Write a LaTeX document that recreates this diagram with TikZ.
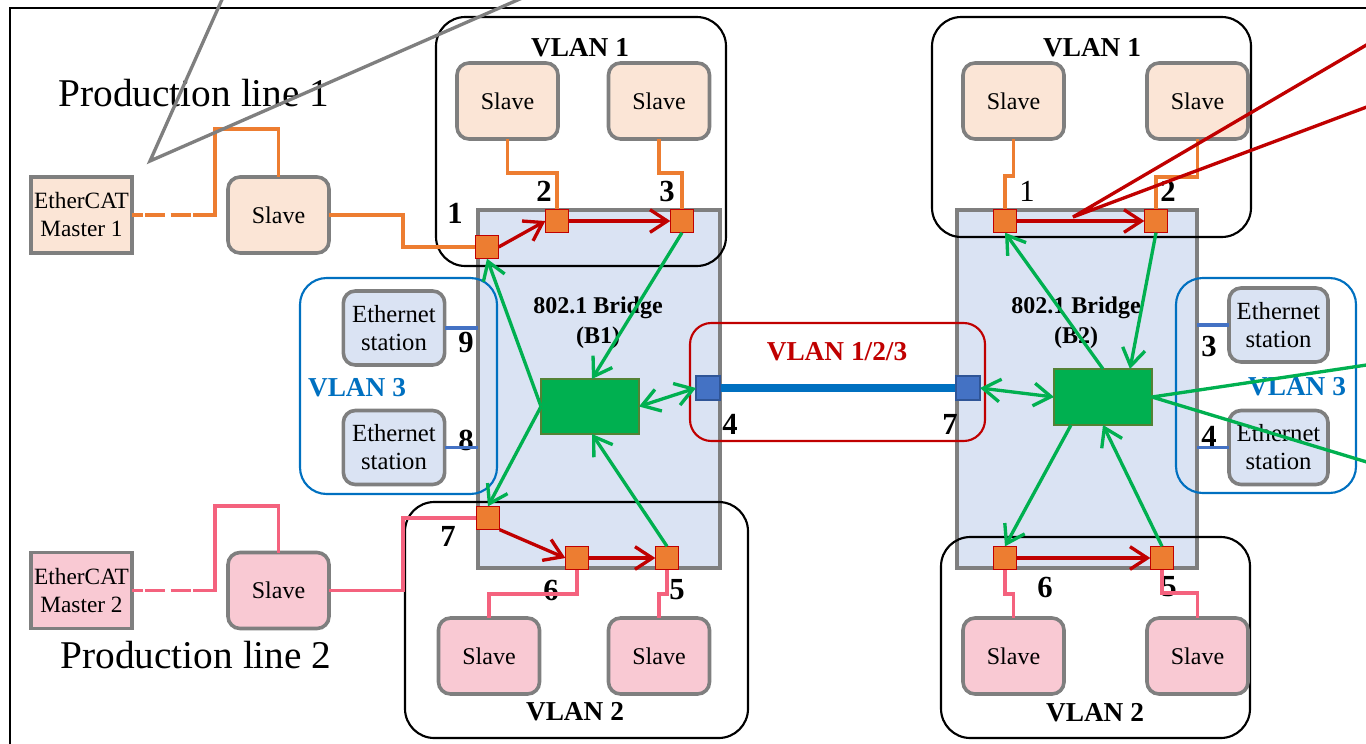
\documentclass[tikz,border=0pt]{standalone}
\usepackage{fontspec}
\setmainfont{Liberation Serif}
\usetikzlibrary{arrows.meta,calc,fit}
\definecolor{gb}{HTML}{7F7F7F}
\definecolor{ofill}{HTML}{FBE5D6}
\definecolor{oline}{HTML}{ED7D31}
\definecolor{pfill}{HTML}{F9C9D3}
\definecolor{pline}{HTML}{F4627E}
\definecolor{bfill}{HTML}{DAE3F3}
\definecolor{gfill}{HTML}{00B050}
\definecolor{gedge}{HTML}{548235}
\definecolor{bport}{HTML}{4472C4}
\definecolor{bportedge}{HTML}{2F5597}
\definecolor{vblue}{HTML}{0070C0}
\definecolor{dred}{HTML}{C00000}
\begin{document}
\begin{tikzpicture}[x=0.75pt,y=-0.75pt,
  every node/.style={inner sep=0pt,outer sep=0pt},
  box/.style={draw=gb,line width=2.7pt,align=center},
  slaveO/.style={box,rounded corners=9pt,fill=ofill,minimum width=75.75pt,minimum height=57pt,font=\fontsize{18}{21}\selectfont},
  slaveP/.style={box,rounded corners=9pt,fill=pfill,minimum width=75.75pt,minimum height=57pt,font=\fontsize{18}{21}\selectfont},
  masterO/.style={box,fill=ofill,minimum width=75.75pt,minimum height=57pt,font=\fontsize{17.5}{21}\selectfont},
  masterP/.style={box,fill=pfill,minimum width=75.75pt,minimum height=57pt,font=\fontsize{17.5}{21}\selectfont},
  station/.style={box,rounded corners=9pt,fill=bfill,minimum width=76pt,minimum height=55.5pt,font=\fontsize{18.5}{21}\selectfont},
  bridge/.style={draw=gb,fill=bfill,line width=2.7pt},
  vbox/.style={draw=black,line width=1.6pt,rounded corners=22pt},
  v3box/.style={draw=vblue,line width=1.6pt,rounded corners=20pt},
  vrbox/.style={draw=dred,line width=1.6pt,rounded corners=16pt},
  port/.style={draw=dred,fill=oline,line width=1.2pt,minimum size=17.5pt},
  bportn/.style={draw=bportedge,fill=bport,line width=1.2pt,minimum size=18pt},
  gbox/.style={draw=gedge,fill=gfill,line width=1.2pt},
  lab/.style={font=\fontsize{20.5}{24}\selectfont\bfseries},
  num/.style={font=\fontsize{23}{26}\selectfont\bfseries},
  bl/.style={font=\fontsize{18}{22.5}\selectfont\bfseries,align=center},
  prod/.style={font=\fontsize{29.5}{32}\selectfont,anchor=base},
  ol/.style={oline,line width=2.5pt},
  pl/.style={pline,line width=2.5pt},
  stl/.style={bport,line width=2.5pt},
  tipb/.style={-{Straight Barb[length=13pt,width=17pt]}},
  rarr/.style={dred,line width=2.5pt,tipb},
  garr/.style={gfill,line width=2.5pt,tipb},
  gdarr/.style={gfill,line width=2.5pt,{Straight Barb[length=13pt,width=17pt]}-{Straight Barb[length=13pt,width=17pt]}},
]
\useasboundingbox (0,0) rectangle (1366,743);
\clip (0,0) rectangle (1366,743);
% frame
\draw[black,line width=1.6pt] (10,760) -- (10,8) -- (1390,8);

% bridges
\node[bridge,fit={(478,210) (720,568)}] (b1) {};
\node[bridge,fit={(957,210) (1197,568)}] (b2) {};

% VLAN boxes
\node[vbox,fit={(436,17) (726,266)}] (v11) {};
\node[vbox,fit={(932,17) (1251,237)}] (v21) {};
\node[vbox,fit={(405,502) (748,738)}] (v12) {};
\node[vbox,fit={(941,537) (1250,738)}] (v22) {};
\node[v3box,fit={(300,278) (497,494)}] (v13) {};
\node[v3box,fit={(1176,278) (1356,493)}] (v23) {};
\node[vrbox,fit={(690,323) (985,441)}] (vr) {};

% labels
\node[lab] (tv11) at (580,48) {VLAN 1};
\node[lab] (tv21) at (1092,48) {VLAN 1};
\node[lab] (tv12) at (575,712) {VLAN 2};
\node[lab] (tv22) at (1095,713) {VLAN 2};
\node[lab,text=vblue] (tv13) at (357,388) {VLAN 3};
\node[lab,text=vblue] (tv23) at (1297,387) {VLAN 3};
\node[lab,text=dred] (tvr) at (837,352) {VLAN 1/2/3};
\node[bl] (tb1) at (598,323) {802.1 Bridge\\(B1)};
\node[bl] (tb2) at (1076,323) {802.1 Bridge\\(B2)};
\node[prod] (pl1) at (194,106) {Production line 1};
\node[prod] (pl2) at (196,668) {Production line 2};

% port numbers
\node[num] (n1) at (455,213) {1};
\node[num] (n2) at (544,191) {2};
\node[num] (n3) at (667,191) {3};
\node[num] (n9) at (466,342) {9};
\node[num] (n8) at (466,440) {8};
\node[num] (n4) at (730,424) {4};
\node[num] (n7) at (448,536) {7};
\node[num] (n6) at (551,590) {6};
\node[num] (n5) at (677,590) {5};
\node[font=\fontsize{23}{26}\selectfont] (m1) at (1027,191) {1};
\node[num] (m2) at (1168,191) {2};
\node[num] (m3) at (1209,346) {3};
\node[num] (m4) at (1209,436) {4};
\node[num] (m7) at (950,424) {7};
\node[num] (m6) at (1045,587) {6};
\node[num] (m5) at (1169,587) {5};

% devices
\node[masterO] (ma1) at (81.5,215) {EtherCAT\\Master 1};
\node[slaveO] (sp1) at (278.5,215) {Slave};
\node[masterP] (ma2) at (81.5,590.5) {EtherCAT\\Master 2};
\node[slaveP] (sp2) at (278.5,590.5) {Slave};
\node[slaveO] (s11) at (507.5,101) {Slave};
\node[slaveO] (s12) at (659,101) {Slave};
\node[slaveO] (s21) at (1013.5,101) {Slave};
\node[slaveO] (s22) at (1197.5,101) {Slave};
\node[slaveP] (s13) at (489,656) {Slave};
\node[slaveP] (s14) at (659,656) {Slave};
\node[slaveP] (s23) at (1013.5,656) {Slave};
\node[slaveP] (s24) at (1197.5,656) {Slave};
\node[station] (e19) at (394,328) {Ethernet\\station};
\node[station] (e18) at (394,447.5) {Ethernet\\station};
\node[station,minimum width=74.25pt] (e23) at (1278.5,325) {Ethernet\\station};
\node[station,minimum width=74.25pt] (e24) at (1278.5,447.5) {Ethernet\\station};

% ports (positions)
\node[port] (p1) at (487,247) {};
\node[port] (p2) at (557,221) {};
\node[port] (p3) at (682,221) {};
\node[port] (p7) at (488,518) {};
\node[port] (p6) at (577,558) {};
\node[port] (p5) at (667,558) {};
\node[port] (q1) at (1005,221) {};
\node[port] (q2) at (1156,221) {};
\node[port] (q6) at (1005,558) {};
\node[port] (q5) at (1162,558) {};

% production line links
\draw[ol,dash pattern=on 8pt off 2pt on 15pt off 4pt on 15pt off 2pt on 400pt] (ma1.east) -- (215,215) -- (215,129) -| (sp1.north);
\draw[ol] (sp1.east) -- (403,215) |- (p1.west);
\draw[pl,dash pattern=on 8pt off 2pt on 15pt off 4pt on 15pt off 2pt on 400pt] (ma2.east) -- (215,590.5) -- (215,506) -| (sp2.north);
\draw[pl] (sp2.east) -- (403,590.5) |- (p7.west);

% slave-port links
\draw[ol] (s11.south) -- (507.5,173) -| (p2.north);
\draw[ol] (s12.south) -- (659,173) -| (p3.north);
\draw[ol] (s21.south) -- (1013.5,176) -| (q1.north);
\draw[ol] (s22.south) -- (1197.5,177) -| (q2.north);
\draw[pl] (p6.south) -- (577,594) -| (s13.north);
\draw[pl] (p5.south) -- (667,594) -| (s14.north);
\draw[pl] (q6.south) -- (1005,594) -| (s23.north);
\draw[pl] (q5.south) -- (1162,593) -| (s24.north);

% station links
\draw[stl] (e19.east) -- (e19.east -| b1.west);
\draw[stl] (e18.east) -- (e18.east -| b1.west);
\draw[stl] (e23.west) -- (e23.west -| b2.east);
\draw[stl] (e24.west) -- (e24.west -| b2.east);

% redraw ports on top
\node[port] at (p1) {};
\node[port] at (p2) {};
\node[port] at (p3) {};
\node[port] at (p7) {};
\node[port] at (p6) {};
\node[port] at (p5) {};
\node[port] at (q1) {};
\node[port] at (q2) {};
\node[port] at (q6) {};
\node[port] at (q5) {};

% inter-bridge link
\node[bportn] (p4) at (708,388) {};
\node[bportn] (q7) at (968,388) {};
\draw[vblue,line width=6pt] (p4.east) -- (q7.west);
\node[bportn] at (p4) {};
\node[bportn] at (q7) {};

% red arrows
\draw[rarr] (p1.east) -- (p2.west);
\draw[rarr] (p2.east) -- (p3.west);
\draw[rarr] (p7.south east) -- (p6.west);
\draw[rarr] (p6.east) -- (p5.west);
\draw[rarr] (q1.east) -- (q2.west);
\draw[rarr] (q6.east) -- (q5.west);

% green boxes
\node[gbox,fit={(541,379) (639,434)}] (g1) {};
\node[gbox,fit={(1054,369) (1152,425)}] (g2) {};

% green arrows
\draw[garr] (g1.west) -- (p1.south);
\draw[garr] (g1.west) -- (p7.north);
\draw[garr] (p3.south) -- ($(g1.north)+(2,0)$);
\draw[garr] (p5.north) -- ($(g1.south)+(2,0)$);
\draw[gdarr] (g1.east) -- (p4.west);
\draw[garr] (g2.north) -- (q1.south);
\draw[garr] (q2.south) -- ($(g2.north)+(27,0)$);
\draw[gdarr] (q7.east) -- (g2.west);
\draw[garr] ($(g2.south)+(-32,0)$) -- (q6.north);
\draw[garr] (q5.north) -- (g2.south);

% callout lines
\coordinate (gx1) at (1380,363);
\coordinate (gx2) at (1380,466);
\draw[gfill,line width=2.5pt] (gx1) -- (g2.east) -- (gx2);
\coordinate (ca) at (150,161);
\coordinate (ca1) at (224,-5);
\coordinate (ca2) at (529,-5);
\draw[gb,line width=2.5pt] (ca1) -- (ca) -- (ca2);
\coordinate (cb) at (1073,217);
\coordinate (cb1) at (1380,37);
\coordinate (cb2) at (1380,102);
\draw[dred,line width=2.5pt] (cb1) -- (cb) -- (cb2);
\end{tikzpicture}
\end{document}
